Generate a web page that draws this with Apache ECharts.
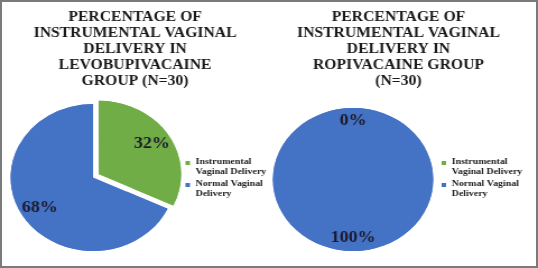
<!DOCTYPE html>
<html>
<head>
<meta charset="utf-8">
<script src="https://cdn.jsdelivr.net/npm/echarts@6/dist/echarts.min.js"></script>
<style>
  html, body { margin: 0; padding: 0; background: #fff; }
  #wrap { position: relative; width: 538px; height: 268px; overflow: hidden; background: #fff; }
  #chart { position: absolute; left: 0; top: 0; width: 480px; height: 268px; transform: scaleX(1.1208); transform-origin: 0 0; }
  #frame { position: absolute; left: 0; top: 0; width: 538px; height: 268px; box-sizing: border-box; border: 2px solid #7a7a7a; pointer-events: none; }
</style>
</head>
<body>
<div id="wrap"><div id="chart"></div><div id="frame"></div></div>
<script>
// ---- data ----
const categories = ['Instrumental Vaginal Delivery', 'Normal Vaginal Delivery'];
const legendLabels = ['Instrumental\nVaginal Delivery', 'Normal Vaginal\nDelivery'];
const levobupivacaineValues = [32, 68];
const ropivacaineValues = [0, 100];
const titles = [
  'PERCENTAGE OF\nINSTRUMENTAL VAGINAL\nDELIVERY IN\nLEVOBUPIVACAINE\nGROUP (N=30)',
  'PERCENTAGE OF\nINSTRUMENTAL VAGINAL\nDELIVERY IN\nROPIVACAINE GROUP\n(N=30)'
];
const colors = ['#70AD47', '#4472C4'];

const serif = '"Liberation Serif", "Times New Roman", serif';
const chart = echarts.init(document.getElementById('chart'), null, { renderer: 'canvas' });

function makeData(values, explodeFirst) {
  return categories.map((c, i) => ({
    name: c,
    value: values[i],
    selected: explodeFirst && i === 0,
    itemStyle: { color: colors[i] }
  }));
}

function pieBase(values, center, radius, explode) {
  return {
    type: 'pie',
    center: center,
    radius: [0, radius],
    startAngle: 90,
    clockwise: true,
    selectedMode: 'single',
    selectedOffset: 6,
    silent: true,
    emphasis: { disabled: true },
    label: { show: false },
    labelLine: { show: false },
    data: makeData(values, explode)
  };
}
function pieLabels(values, center, r0, radius, explode) {
  return {
    type: 'pie',
    center: center,
    radius: [r0, radius],
    startAngle: 90,
    clockwise: true,
    selectedMode: 'single',
    selectedOffset: 6,
    silent: true,
    emphasis: { disabled: true },
    label: {
      show: true,
      position: 'inside',
      formatter: '{c}%',
      fontFamily: serif,
      fontWeight: 'bold',
      fontSize: 16,
      color: '#1b1b2b'
    },
    labelLine: { show: false },
    data: makeData(values, explode)
  };
}

const legendIcon = 'path://M0,0L0.01,0L0.01,0.01Z M0,4L4,4L4,8L0,8Z M0,19.99L0.01,20L0,20Z';
function legend(left) {
  return {
    orient: 'vertical',
    left: left,
    top: 157,
    itemWidth: 4,
    itemHeight: 20,
    itemGap: 2,
    padding: 0,
    icon: legendIcon,
    selectedMode: false,
    data: categories,
    formatter: name => legendLabels[categories.indexOf(name)],
    textStyle: {
      fontFamily: serif,
      fontWeight: 'bold',
      fontSize: 8.9,
      lineHeight: 10,
      color: '#1e1e1e'
    }
  };
}

const titleStyle = {
  fontFamily: serif,
  fontWeight: 'bold',
  fontSize: 14,
  lineHeight: 16,
  color: '#1a1a1a'
};

chart.setOption({
  backgroundColor: '#fff',
  animation: false,
  title: [
    { text: titles[0], left: 120.5, top: 9, padding: 0, textAlign: 'center', textStyle: titleStyle },
    { text: titles[1], left: 355.5, top: 9, padding: 0, textAlign: 'center', textStyle: titleStyle }
  ],
  legend: [legend(165.5), legend(394)],
  series: [
    pieBase(levobupivacaineValues, [83, 177.5], 73.5, true),
    pieLabels(levobupivacaineValues, [83, 177.5], 33, 73.5, true),
    pieBase(ropivacaineValues, [315, 179.5], 71.5, false),
    pieLabels(ropivacaineValues, [315, 179.5], 40, 71.5, false)
  ]
});
</script>
</body>
</html>
